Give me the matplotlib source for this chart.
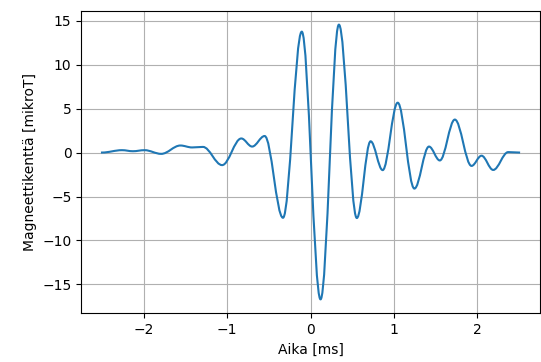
import numpy as np
from matplotlib import pyplot as plt
from matplotlib.path import Path
from matplotlib.patches import PathPatch

# turning points of the trace
# (time in ms, field in microtesla)
time_ms = [-2.50, -2.26, -2.13, -1.99, -1.79, -1.56, -1.42, -1.29, -1.06,
           -0.83, -0.70, -0.55, -0.33, -0.105, 0.12, 0.34, 0.555, 0.72,
           0.865, 1.045, 1.245, 1.42, 1.55, 1.73, 1.93, 2.05, 2.19, 2.37, 2.50]
field_uT = [0.00, 0.27, 0.15, 0.27, -0.15, 0.80, 0.58, 0.64, -1.43,
            1.60, 0.68, 1.88, -7.42, 13.75, -16.7, 14.55, -7.45, 1.28,
            -2.00, 5.67, -4.10, 0.68, -0.90, 3.75, -1.52, -0.36, -1.98, 0.05, 0.00]


def smooth_path(xs, ys, c=0.36):
    # cubic bezier between neighbouring turning points, flat at each of them
    verts = [(xs[0], ys[0])]
    codes = [Path.MOVETO]
    for i in range(len(xs) - 1):
        d = xs[i + 1] - xs[i]
        verts += [(xs[i] + c * d, ys[i]), (xs[i + 1] - c * d, ys[i + 1]),
                  (xs[i + 1], ys[i + 1])]
        codes += [Path.CURVE4] * 3
    return Path(verts, codes)


fig = plt.figure(figsize=(5.41, 3.62), dpi=100)
ax = fig.add_axes([0.150, 0.135, 0.848, 0.835])
line = PathPatch(smooth_path(np.array(time_ms), np.array(field_uT)),
                 fill=False, edgecolor='#1f77b4', lw=1.5,
                 joinstyle='round', capstyle='projecting')
ax.add_patch(line)
ax.autoscale_view()
ax.grid(True)
ax.set_axisbelow(True)
ax.set_xlabel('Aika [ms]')
ax.set_ylabel('Magneettikenttä [mikroT]')
fig.savefig('out.png', dpi=100)
